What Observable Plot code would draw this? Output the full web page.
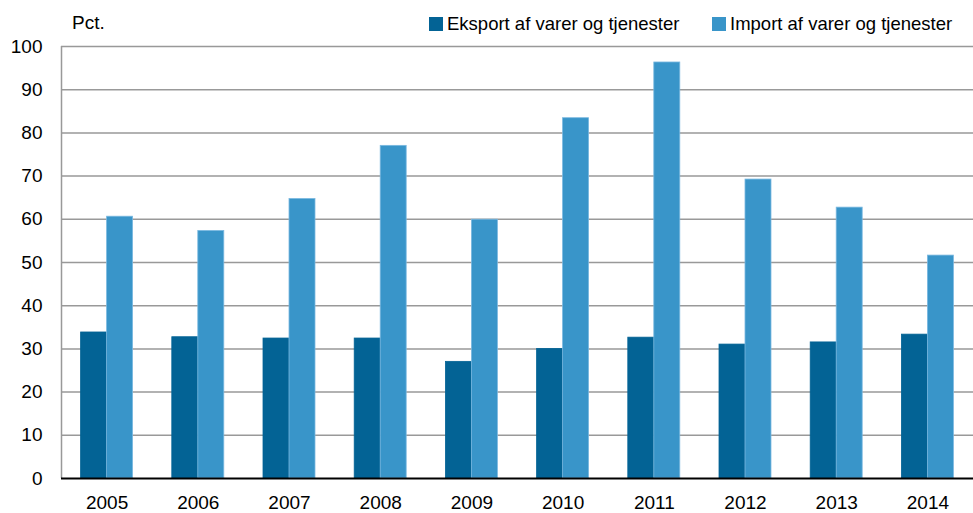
<!DOCTYPE html>
<html>
<head>
<meta charset="utf-8">
<script src="https://cdn.jsdelivr.net/npm/d3@7"></script>
<script src="https://cdn.jsdelivr.net/npm/@observablehq/plot@0.6"></script>
<style>
  html, body { margin: 0; padding: 0; background: #fff; }
  #wrap { position: relative; width: 973px; height: 513px; font-family: "Liberation Sans", Arial, sans-serif; color: #000; }
  #unit { position: absolute; left: 72px; top: 12px; font-size: 19px; line-height: 22px; }
  .item { position: absolute; top: 13px; display: flex; align-items: center; font-size: 18.5px; line-height: 22px; white-space: nowrap; }
  .sw { width: 14px; height: 14px; margin-right: 4px; }
</style>
</head>
<body>
<div id="wrap">
  <div id="chart"></div>
  <div id="unit">Pct.</div>
  <div id="legend"></div>
</div>
<script>
const years = [2005, 2006, 2007, 2008, 2009, 2010, 2011, 2012, 2013, 2014];
const eksport = [33.8, 32.7, 32.4, 32.4, 27.0, 30.0, 32.6, 31.0, 31.5, 33.3];
const importVals = [60.6, 57.3, 64.7, 77.0, 59.9, 83.4, 96.3, 69.2, 62.7, 51.6];
const seriesNames = ["Eksport af varer og tjenester", "Import af varer og tjenester"];
const seriesColors = ["#036395", "#3995c9"];
const yTicks = [0, 10, 20, 30, 40, 50, 60, 70, 80, 90, 100];
const legendLeft = [429, 712];

const bw = 0.285;
const data = [];
years.forEach((yr, i) => {
  data.push({year: yr, series: seriesNames[0], value: eksport[i], x1: yr - bw, x2: yr});
  data.push({year: yr, series: seriesNames[1], value: importVals[i], x1: yr, x2: yr + bw});
});

const font = '"Liberation Sans", Arial, sans-serif';
const chart = Plot.plot({
  width: 973,
  height: 513,
  marginLeft: 61,
  marginRight: 0,
  marginTop: 46,
  marginBottom: 35,
  style: {fontFamily: font, fontSize: "19px", color: "#000", background: "#fff"},
  x: {domain: [2004.5, 2014.5], ticks: years, tickFormat: d => String(d), tickSize: 0, tickPadding: 17, label: null},
  y: {domain: [0, 100], ticks: yTicks, tickSize: 0, tickPadding: 19, label: null},
  color: {domain: seriesNames, range: seriesColors},
  marks: [
    Plot.gridY(yTicks.filter(d => d > 0), {stroke: "#999", strokeOpacity: 1, strokeWidth: 1.5}),
    Plot.ruleX([2004.5], {y1: 0, y2: 100, stroke: "#999", strokeWidth: 1.5}),
    Plot.rectY(data, {x1: "x1", x2: "x2", y: "value", fill: "series",
      stroke: d => d.series === seriesNames[1] ? "#7ab8e0" : "#036395", strokeWidth: 0.8}),
    Plot.ruleY([0], {stroke: "#000", strokeWidth: 2}),
    Plot.axisX({ticks: years, tickFormat: d => String(d), tickSize: 0, tickPadding: 17, fontSize: 19}),
    Plot.axisY({ticks: yTicks, tickSize: 0, tickPadding: 19, fontSize: 19})
  ]
});
document.getElementById("chart").appendChild(chart);

const legend = document.getElementById("legend");
seriesNames.forEach((name, i) => {
  const it = document.createElement("div");
  it.className = "item";
  it.style.left = legendLeft[i] + "px";
  const sw = document.createElement("div");
  sw.className = "sw";
  sw.style.background = seriesColors[i];
  const tx = document.createElement("span");
  tx.textContent = name;
  it.appendChild(sw);
  it.appendChild(tx);
  legend.appendChild(it);
});
</script>
</body>
</html>
